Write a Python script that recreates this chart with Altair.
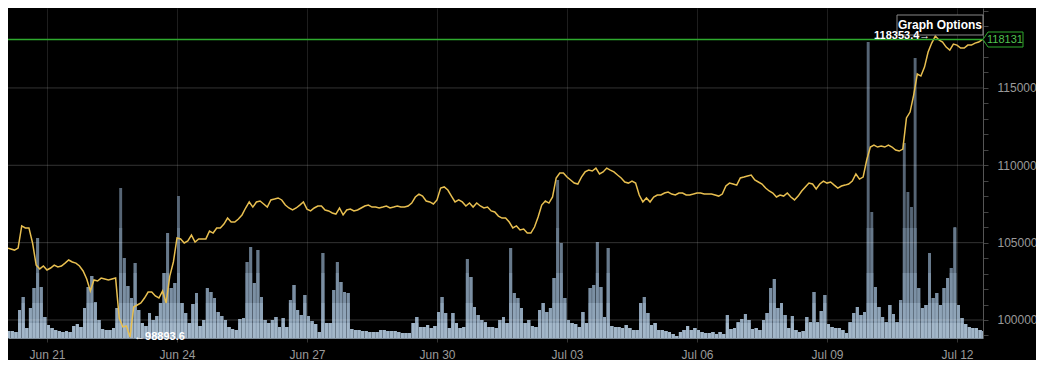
import altair as alt
import pandas as pd

# ---------------- data (2-hour steps starting 2025-06-19 22:00) ----------------
start = "2025-06-19 22:00"
price = [
    104400, 104520, 104650, 104590, 104520, 104650, 106080, 105950, 105950, 104980,
    103550, 103300, 103490, 103230, 103360, 103550, 103430, 103490, 103680, 103880,
    103750, 103680, 103490, 103170, 102650, 101870, 102590, 102520, 102710, 102650,
    102590, 102650, 102710, 100130, 99550, 99610, 98893.6, 100840, 100970, 101100,
    101420, 101810, 101810, 101550, 101420, 101870, 101100, 102840, 103750, 105300,
    105240, 104980, 105110, 105490, 105040, 105240, 105240, 105240, 105750, 105620,
    105950, 105950, 106200, 106590, 106330, 106330, 106530, 106790, 107240, 107630,
    107300, 107630, 107690, 107500, 107300, 107760, 107820, 107890, 107760, 107430,
    107240, 107110, 107240, 107430, 107630, 107170, 107050, 107240, 107370, 107370,
    107110, 107050, 106920, 106850, 107240, 106790, 107110, 107170, 107050, 107110,
    107240, 107370, 107430, 107300, 107300, 107240, 107300, 107370, 107240, 107300,
    107370, 107300, 107300, 107370, 107560, 107950, 108140, 108010, 107690, 107630,
    107500, 107760, 108530, 108600, 108400, 108010, 107630, 107760, 107630, 107370,
    107560, 107300, 107560, 107370, 107240, 107300, 107050, 106980, 106720, 106590,
    106590, 106330, 105950, 106080, 105820, 105880, 105620, 105620, 106010, 106660,
    107430, 107690, 107560, 107950, 109180, 109500, 109500, 109240, 109050, 108850,
    108790, 109240, 109570, 109690, 109630, 109820, 109440, 109570, 109820, 109690,
    109570, 109370, 109180, 108920, 108850, 108980, 108850, 108080, 107630, 107890,
    107630, 107950, 108080, 108080, 108210, 108270, 108140, 108080, 108210, 108210,
    108080, 108080, 108140, 108210, 108210, 108140, 108140, 108140, 108080, 108010,
    108140, 108660, 108850, 108790, 108720, 109180, 109240, 109310, 109370, 109050,
    108920, 108790, 108530, 108340, 108210, 107950, 108080, 108010, 108210, 107950,
    107760, 108010, 108340, 108600, 108850, 108790, 108470, 108790, 108980, 108850,
    108920, 108720, 108530, 108660, 108720, 108790, 108980, 109440, 109110, 109240,
    110340, 111180, 111310, 111180, 111250, 111180, 111310, 111180, 110990, 110920,
    111050, 113060, 113440, 114540, 115900, 115770, 116350, 117320, 117900, 118353.4,
    118100, 117970, 117640, 117450, 117840, 117770, 117580, 117580, 117770, 117770,
    117900, 117970, 118131,
]
volume = [
    7, 8, 7, 7, 6, 28, 41, 10, 30, 50,
    100, 51, 21, 13, 10, 8, 7, 6, 7, 6,
    12, 14, 11, 30, 51, 62, 36, 18, 9, 8,
    8, 10, 30, 150, 80, 52, 40, 75, 28, 15,
    12, 25, 18, 22, 35, 65, 105, 50, 55, 142,
    35, 25, 15, 34, 45, 12, 18, 50, 46, 40,
    26, 22, 18, 11, 9, 8, 19, 20, 76, 91,
    55, 88, 41, 18, 15, 18, 21, 11, 20, 11,
    38, 53, 28, 23, 43, 22, 17, 14, 6, 85,
    15, 15, 48, 76, 56, 46, 45, 9, 8, 8,
    7, 7, 6, 6, 6, 8, 8, 7, 7, 7,
    6, 5, 5, 5, 15, 21, 11, 11, 13, 10,
    12, 26, 41, 25, 10, 25, 15, 10, 11, 79,
    61, 31, 23, 18, 16, 11, 11, 10, 18, 21,
    15, 90, 45, 40, 30, 15, 18, 12, 11, 28,
    35, 26, 30, 60, 158, 95, 40, 18, 15, 14,
    11, 26, 15, 50, 53, 96, 51, 21, 90, 12,
    11, 11, 10, 13, 10, 8, 8, 35, 41, 25,
    13, 15, 8, 8, 7, 6, 4, 2, 6, 8,
    12, 8, 10, 8, 6, 5, 5, 6, 4, 6,
    4, 23, 9, 10, 16, 19, 24, 18, 9, 10,
    8, 18, 25, 50, 59, 30, 35, 23, 10, 22,
    8, 6, 7, 21, 16, 46, 16, 27, 43, 14,
    11, 10, 10, 8, 5, 16, 25, 31, 23, 26,
    296, 126, 51, 31, 21, 16, 33, 24, 16, 38,
    195, 146, 131, 280, 50, 30, 33, 85, 40, 45,
    33, 50, 60, 70, 111, 33, 20, 14, 11, 10,
    10, 8, 7,
]
y_grid_values = [100000, 105000, 110000, 115000]
x_tick_dates = [(6, 21), (6, 24), (6, 27), (6, 30), (7, 3), (7, 6), (7, 9), (7, 12)]
last_price = 118131
max_price = 118353.4
min_price = 98893.6
max_label = "118353.4\u2192"
min_label = "\u219098893.6"
button_label = "Graph Options"

# ---------------- tables ----------------
times = pd.date_range(start, periods=len(price), freq="2h")
df = pd.DataFrame({
    "t": times.strftime("%Y-%m-%dT%H:%M:%S"),
    "t2": (times + pd.Timedelta(hours=2)).strftime("%Y-%m-%dT%H:%M:%S"),
    "price": price,
    "volume": volume,
})
max_row = df[df["price"] == max_price].assign(label=max_label)
min_row = df[df["price"] == min_price].assign(label=min_label)
grid_df = pd.DataFrame({"g": y_grid_values})
last_df = pd.DataFrame({"p": [last_price], "label": [str(last_price)]})
btn_df = pd.DataFrame({"label": [button_label]})

W, H = 975, 330
FONT = "Liberation Sans"
GREEN = "#2eaa2e"

x_scale = alt.Scale(domain=[
    alt.DateTime(year=2025, month=6, date=20, hours=2, minutes=24),
    alt.DateTime(year=2025, month=7, date=12, hours=14, minutes=24),
])
p_scale = alt.Scale(domain=[98836, 120168], nice=False, zero=False)
v_scale = alt.Scale(domain=[0, 330], nice=False)

x_axis = alt.Axis(
    values=[alt.DateTime(year=2025, month=m, date=d) for m, d in x_tick_dates],
    format="%b %d", labelColor="#9a9a9a", labelFont=FONT, labelFontSize=12,
    labelBaseline="alphabetic", labelPadding=16, tickSize=4, tickColor="#333333",
    domainColor="#7f8c98", grid=True, gridColor="#1e1e1e", title=None, labelFlush=False,
)
y_axis = alt.Axis(
    orient="right", values=list(range(99000, 121000, 1000)),
    labelExpr="(datum.value % 5000 == 0 && datum.value < 120000) ? format(datum.value, 'd') : ''",
    labelColor="#9a9a9a", labelFont=FONT, labelFontSize=12, labelPadding=9,
    tickSize=5, tickColor="#444444", domainColor="#555555", grid=False, title=None,
)


def X(field):
    return alt.X(field, scale=x_scale, axis=x_axis)


base = alt.Chart(df)

# volume bars, drawn in height bands so that tall bars darken toward the top
band_specs = [(None, "#566575"), (110, "#67798b"), (65, "#7b8fa3"), (35, "#8fa4b8"), (15, "#a3b7c9")]
bar_layers = []
for k, (cap, col) in enumerate(band_specs):
    expr = "datum.volume" if cap is None else f"min(datum.volume, {cap})"
    layer = base.transform_calculate(vb=expr).mark_rect(
        color=col, clip=True, x2Offset=-0.7
    ).encode(
        x=X("t:T"),
        x2="t2:T",
        y=alt.Y("vb:Q", scale=v_scale, axis=None),
        y2=alt.datum(0),
    )
    bar_layers.append(layer)

hgrid = alt.Chart(grid_df).mark_rule(color="#ffffff", opacity=0.2, strokeWidth=1).encode(
    y=alt.Y("g:Q", scale=p_scale, axis=None)
)

line = base.mark_line(color="#e8bf50", strokeWidth=1.5, clip=True).encode(
    x=X("t:T"),
    y=alt.Y("price:Q", scale=p_scale, axis=y_axis),
)

last_rule = alt.Chart(last_df).mark_rule(color=GREEN, stroke=GREEN, strokeWidth=1.6, opacity=1).encode(
    y=alt.Y("p:Q", scale=p_scale, axis=None)
)

btn_box = alt.Chart(btn_df).mark_rect(fill="#000000", stroke="#888888", strokeWidth=1).encode(
    x=alt.value(W - 86), x2=alt.value(W), y=alt.value(7), y2=alt.value(27),
)
btn_text = alt.Chart(btn_df).mark_text(
    align="center", baseline="middle", color="#ffffff", font=FONT, fontSize=12,
    fontWeight="bold",
).encode(x=alt.value(W - 43), y=alt.value(17), text="label:N")

max_text = alt.Chart(max_row).mark_text(
    align="right", baseline="middle", dx=-5, dy=0, color="#ffffff",
    font=FONT, fontSize=11, fontWeight="bold",
).encode(
    x=X("t:T"),
    y=alt.Y("price:Q", scale=p_scale, axis=None),
    text="label:N",
)

min_text = alt.Chart(min_row).mark_text(
    align="left", baseline="middle", dx=4, dy=0, color="#ffffff",
    font=FONT, fontSize=11, fontWeight="bold",
).encode(
    x=X("t:T"),
    y=alt.Y("price:Q", scale=p_scale, axis=None),
    text="label:N",
)

tag_path = "M-1,0L-0.75,-0.375L1,-0.375L1,0.375L-0.75,0.375Z"
tag_box = alt.Chart(last_df).mark_point(
    shape=tag_path, size=1600, filled=True, fill="#000000", stroke=GREEN,
    strokeWidth=1, opacity=1,
).encode(
    x=alt.value(W + 20),
    y=alt.Y("p:Q", scale=p_scale, axis=None),
)
tag_text = alt.Chart(last_df).mark_text(
    align="center", baseline="middle", color="#4fc24f", font=FONT, fontSize=11,
).encode(
    x=alt.value(W + 22),
    y=alt.Y("p:Q", scale=p_scale, axis=None),
    text="label:N",
)

chart = alt.layer(
    *bar_layers, hgrid, line, last_rule, btn_box, btn_text, max_text, min_text,
    tag_box, tag_text,
).resolve_scale(y="independent").properties(
    width=W, height=H,
    autosize=alt.AutoSizeParams(type="none"),
    padding={"left": 0, "top": 0, "right": 53, "bottom": 22},
    background="#000000",
).configure_view(stroke=None)

chart.save("out.html", embed_options={"renderer": "svg", "actions": False})
